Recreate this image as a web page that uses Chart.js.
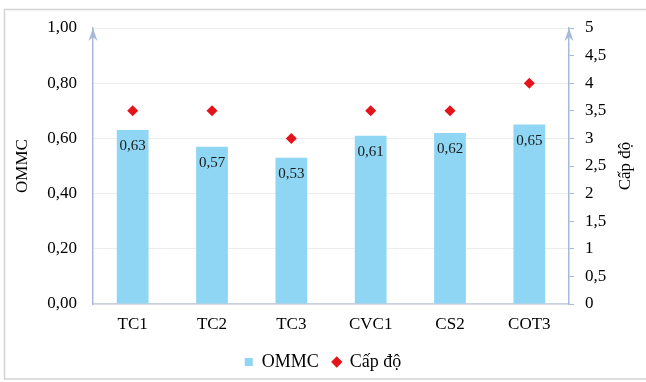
<!DOCTYPE html>
<html>
<head>
<meta charset="utf-8">
<script src="https://cdn.jsdelivr.net/npm/chart.js@4/dist/chart.umd.min.js"></script>
<style>
html,body{margin:0;padding:0;background:#fff;}
#wrap{width:646px;height:382px;position:relative;}
</style>
</head>
<body>
<div id="wrap"><canvas id="c" width="646" height="382"></canvas></div>
<script>
const categories = ['TC1', 'TC2', 'TC3', 'CVC1', 'CS2', 'COT3'];
const ommcValues = [0.63, 0.57, 0.53, 0.61, 0.62, 0.65];
const capDoValues = [3.5, 3.5, 3, 3.5, 3.5, 4];
const seriesNames = ['OMMC', 'Cấp độ'];
const leftAxisTitle = 'OMMC';
const rightAxisTitle = 'Cấp độ';

const SERIF = "'Liberation Serif', 'Times New Roman', serif";
const AXIS_COLOR = '#a7b9d9';
Chart.defaults.font.family = SERIF;
Chart.defaults.color = '#000';

const frame = {
  id: 'frame',
  beforeDraw(chart) {
    const ctx = chart.ctx;
    ctx.save();
    ctx.fillStyle = '#fff';
    ctx.fillRect(0, 0, chart.width, chart.height);
    ctx.strokeStyle = '#d3d3d3';
    ctx.lineWidth = 1.5;
    ctx.strokeRect(4.5, 9.5, chart.width, 369.5);
    ctx.restore();
  }
};

const extras = {
  id: 'extras',
  afterDatasetsDraw(chart) {
    const ctx = chart.ctx;
    const meta = chart.getDatasetMeta(0);
    ctx.save();
    ctx.font = '15px ' + SERIF;
    ctx.fillStyle = '#1a1a1a';
    ctx.textAlign = 'center';
    ctx.textBaseline = 'middle';
    meta.data.forEach((bar, i) => {
      const v = chart.data.datasets[0].data[i];
      ctx.fillText(v.toFixed(2).replace('.', ','), bar.x, bar.y + 16);
    });
    ctx.restore();
  },
  afterDraw(chart) {
    const ctx = chart.ctx;
    const a = chart.chartArea;
    ctx.save();
    ctx.fillStyle = AXIS_COLOR;
    [a.left, a.right].forEach(x => {
      const t = a.top;
      ctx.beginPath();
      ctx.moveTo(x, t);
      ctx.lineTo(x - 4.5, t + 13);
      ctx.lineTo(x, t + 9);
      ctx.lineTo(x + 4.5, t + 13);
      ctx.closePath();
      ctx.fill();
    });
    // right axis title, reading bottom-to-top
    ctx.fillStyle = '#000';
    ctx.font = '17px ' + SERIF;
    ctx.textAlign = 'center';
    ctx.textBaseline = 'middle';
    ctx.translate(626, (a.top + a.bottom) / 2);
    ctx.rotate(-Math.PI / 2);
    ctx.fillText(rightAxisTitle, 0, 0);
    ctx.restore();
  }
};

new Chart(document.getElementById('c'), {
  data: {
    labels: categories,
    datasets: [
      {
        type: 'bar',
        label: seriesNames[0],
        data: ommcValues,
        yAxisID: 'y',
        backgroundColor: '#8ed6f3',
        borderWidth: 0,
        barPercentage: 0.4,
        categoryPercentage: 1,
        pointStyle: 'rect',
        order: 2
      },
      {
        type: 'scatter',
        label: seriesNames[1],
        data: capDoValues,
        yAxisID: 'y1',
        pointStyle: 'rectRot',
        pointRadius: 5.5,
        pointHoverRadius: 5.5,
        backgroundColor: '#e5131a',
        borderColor: '#e5131a',
        borderWidth: 0,
        showLine: false,
        order: 1
      }
    ]
  },
  options: {
    responsive: false,
    animation: false,
    devicePixelRatio: 1,
    layout: { padding: { left: 0, right: 0, top: 28, bottom: 1 } },
    plugins: {
      tooltip: { enabled: false },
      legend: {
        position: 'bottom',
        labels: {
          usePointStyle: true,
          boxWidth: 8,
          boxHeight: 8,
          padding: 14,
          color: '#000',
          font: { family: SERIF, size: 18 },
          sort: (a, b) => a.datasetIndex - b.datasetIndex
        }
      }
    },
    scales: {
      x: {
        type: 'category',
        offset: true,
        grid: { display: false, drawTicks: false },
        border: { display: true, color: '#c8d0dc', width: 1.5 },
        ticks: { color: '#000', font: { family: SERIF, size: 17 }, padding: 10 },
        afterFit(s) { s.height = 35; }
      },
      y: {
        position: 'left',
        min: 0,
        max: 1,
        ticks: {
          stepSize: 0.2,
          color: '#000',
          font: { family: SERIF, size: 17 },
          padding: 16,
          callback: v => Number(v).toFixed(2).replace('.', ',')
        },
        grid: { color: '#ececec', drawTicks: false },
        border: { display: true, color: AXIS_COLOR, width: 1.5 },
        title: {
          display: true,
          text: leftAxisTitle,
          color: '#000',
          font: { family: SERIF, size: 17 },
          padding: { top: 12, bottom: 0 }
        },
        afterFit(s) { s.width = 93; }
      },
      y1: {
        position: 'right',
        min: 0,
        max: 5,
        ticks: {
          stepSize: 0.5,
          color: '#000',
          font: { family: SERIF, size: 17 },
          padding: 11,
          callback: v => String(v).replace('.', ',')
        },
        grid: { drawOnChartArea: false, drawTicks: true, tickLength: 5, color: AXIS_COLOR },
        border: { display: true, color: AXIS_COLOR, width: 1.5 },
        afterFit(s) { s.width = 77; }
      }
    }
  },
  plugins: [frame, extras]
});
</script>
</body>
</html>
